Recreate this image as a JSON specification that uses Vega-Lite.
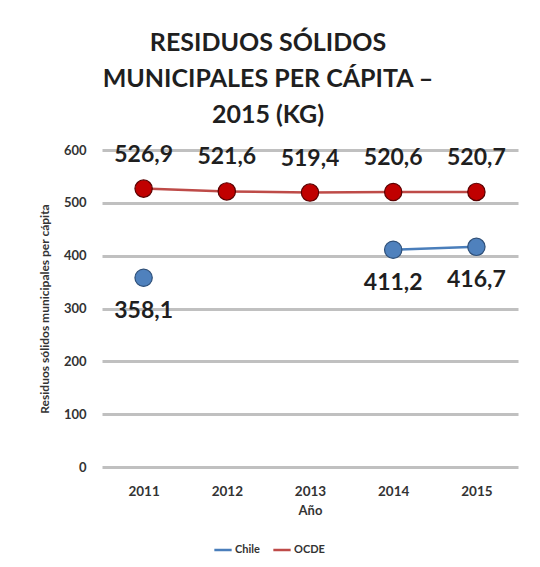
{
  "$schema": "https://vega.github.io/schema/vega-lite/v6.json",
  "width": 416,
  "height": 317,
  "autosize": {"type": "none"},
  "padding": {"left": 102, "top": 150, "right": 22, "bottom": 100},
  "background": "white",
  "title": {
    "text": ["RESIDUOS SÓLIDOS", "MUNICIPALES PER CÁPITA –", "2015 (KG)"],
    "font": "Lato",
    "fontSize": 25,
    "fontWeight": "bold",
    "color": "#1f1f1f",
    "lineHeight": 36,
    "anchor": "middle",
    "dx": -42,
    "offset": 16
  },
  "config": {
    "locale": {"number": {"decimal": ",", "thousands": ".", "grouping": [3], "currency": ["", ""]}},
    "view": {"stroke": null},
    "font": "Lato"
  },
  "data": {
    "values": [
      {"year": "2011", "serie": "Chile", "value": 358.1},
      {"year": "2012", "serie": "Chile", "value": null},
      {"year": "2013", "serie": "Chile", "value": null},
      {"year": "2014", "serie": "Chile", "value": 411.2},
      {"year": "2015", "serie": "Chile", "value": 416.7},
      {"year": "2011", "serie": "OCDE", "value": 526.9},
      {"year": "2012", "serie": "OCDE", "value": 521.6},
      {"year": "2013", "serie": "OCDE", "value": 519.4},
      {"year": "2014", "serie": "OCDE", "value": 520.6},
      {"year": "2015", "serie": "OCDE", "value": 520.7}
    ]
  },
  "encoding": {
    "x": {
      "field": "year", "type": "ordinal", "title": "Año",
      "scale": {"type": "point", "padding": 0.5},
      "axis": {
        "labelAngle": 0, "labelFont": "Lato", "labelFontSize": 13.5, "labelFontWeight": "bold",
        "labelColor": "#333333", "labelPadding": 17, "domain": false, "ticks": false,
        "titleFont": "Lato", "titleFontSize": 13, "titleFontWeight": "bold", "titleColor": "#333333",
        "titlePadding": 7
      }
    },
    "y": {
      "field": "value", "type": "quantitative",
      "title": "Residuos sólidos municipales per cápita",
      "scale": {"domain": [0, 600]},
      "axis": {
        "values": [0, 100, 200, 300, 400, 500, 600],
        "labelFont": "Lato", "labelFontSize": 13, "labelFontWeight": "bold", "labelColor": "#333333",
        "labelPadding": 16, "domain": false, "ticks": false,
        "gridColor": "#C0C0C0", "gridWidth": 3,
        "titleFont": "Lato", "titleFontSize": 12, "titleFontWeight": "bold", "titleColor": "#333333",
        "titlePadding": 12
      }
    }
  },
  "layer": [
    {
      "mark": {"type": "line", "strokeWidth": 2.5},
      "encoding": {
        "color": {
          "field": "serie", "type": "nominal",
          "scale": {"domain": ["Chile", "OCDE"], "range": ["#4A7EBB", "#BE4B48"]},
          "legend": {
            "orient": "none", "legendX": 111, "legendY": 390, "direction": "horizontal", "title": null,
            "symbolType": "stroke", "symbolStrokeWidth": 2.5, "symbolSize": 300,
            "labelFont": "Lato", "labelFontSize": 11, "labelFontWeight": "bold", "labelColor": "#333333",
            "columnPadding": 8, "labelOffset": 2
          }
        }
      }
    },
    {
      "mark": {"type": "point", "filled": true, "size": 300, "shape": "circle", "strokeWidth": 1.2, "opacity": 1},
      "encoding": {
        "fill": {
          "field": "serie", "type": "nominal",
          "scale": {"domain": ["Chile", "OCDE"], "range": ["#4F81BD", "#C00000"]},
          "legend": null
        },
        "stroke": {
          "field": "serie", "type": "nominal",
          "scale": {"domain": ["Chile", "OCDE"], "range": ["#2E4F78", "#5A0000"]},
          "legend": null
        }
      }
    },
    {
      "transform": [{"filter": "datum.serie === 'OCDE'"}],
      "mark": {"type": "text", "dy": -34, "fontSize": 23, "fontWeight": "bold", "color": "#1f1f1f", "font": "Lato"},
      "encoding": {"text": {"field": "value", "type": "quantitative", "format": ".1f"}}
    },
    {
      "transform": [{"filter": "datum.serie === 'Chile' && datum.value != null"}],
      "mark": {"type": "text", "dy": 33, "fontSize": 23, "fontWeight": "bold", "color": "#1f1f1f", "font": "Lato"},
      "encoding": {"text": {"field": "value", "type": "quantitative", "format": ".1f"}}
    }
  ]
}
